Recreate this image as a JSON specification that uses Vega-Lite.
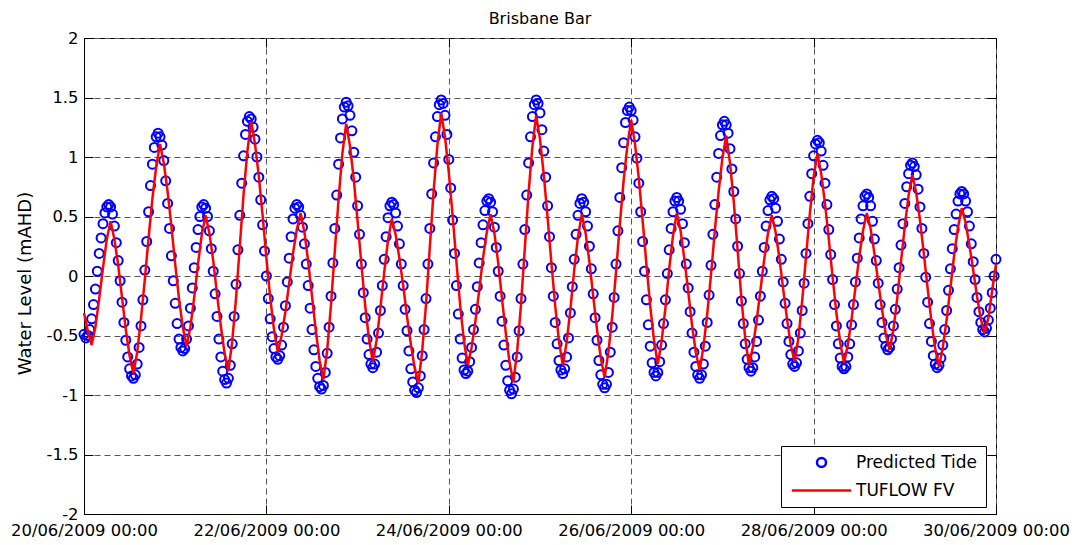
{
"$schema":"https://vega.github.io/schema/vega-lite/v6.json",
"width":912,"height":476,
"autosize":"none",
"padding":{"left":84,"top":38,"right":85,"bottom":31},
"background":"white",
"title":{"text":"Brisbane Bar","fontSize":16,"fontWeight":"normal","font":"DejaVu Sans","color":"black","offset":3},
"config":{
"view":{"stroke":"black","strokeWidth":1},
"axis":{"labelFont":"DejaVu Sans","labelFontSize":16.4,"labelColor":"black","titleFont":"DejaVu Sans","titleFontSize":18,"titleFontWeight":"normal","titleColor":"black","gridColor":"#555555","gridDash":[6,4],"gridWidth":1,"gridOpacity":1,"domainColor":"black","domainWidth":1,"tickColor":"black","tickWidth":1,"tickSize":-9}
},
"datasets":{
"obs":[
{"t":"2009-06-20T00:00","v":-0.49},{"t":"2009-06-20T00:30","v":-0.52},{"t":"2009-06-20T01:00","v":-0.50},{"t":"2009-06-20T01:30","v":-0.45},{"t":"2009-06-20T02:00","v":-0.36},{"t":"2009-06-20T02:30","v":-0.24},{"t":"2009-06-20T03:00","v":-0.11},{"t":"2009-06-20T03:30","v":0.04},{"t":"2009-06-20T04:00","v":0.19},{"t":"2009-06-20T04:30","v":0.32},{"t":"2009-06-20T05:00","v":0.44},{"t":"2009-06-20T05:30","v":0.53},{"t":"2009-06-20T06:00","v":0.58},{"t":"2009-06-20T06:30","v":0.60},{"t":"2009-06-20T07:00","v":0.58},{"t":"2009-06-20T07:30","v":0.52},{"t":"2009-06-20T08:00","v":0.42},{"t":"2009-06-20T08:30","v":0.28},{"t":"2009-06-20T09:00","v":0.13},{"t":"2009-06-20T09:30","v":-0.04},{"t":"2009-06-20T10:00","v":-0.22},{"t":"2009-06-20T10:30","v":-0.39},{"t":"2009-06-20T11:00","v":-0.54},{"t":"2009-06-20T11:30","v":-0.68},{"t":"2009-06-20T12:00","v":-0.78},{"t":"2009-06-20T12:30","v":-0.84},{"t":"2009-06-20T13:00","v":-0.86},{"t":"2009-06-20T13:30","v":-0.83},{"t":"2009-06-20T14:00","v":-0.74},{"t":"2009-06-20T14:30","v":-0.60},{"t":"2009-06-20T15:00","v":-0.42},{"t":"2009-06-20T15:30","v":-0.20},{"t":"2009-06-20T16:00","v":0.05},{"t":"2009-06-20T16:30","v":0.29},{"t":"2009-06-20T17:00","v":0.54},{"t":"2009-06-20T17:30","v":0.76},{"t":"2009-06-20T18:00","v":0.94},{"t":"2009-06-20T18:30","v":1.08},{"t":"2009-06-20T19:00","v":1.17},{"t":"2009-06-20T19:30","v":1.20},{"t":"2009-06-20T20:00","v":1.17},{"t":"2009-06-20T20:30","v":1.10},{"t":"2009-06-20T21:00","v":0.97},{"t":"2009-06-20T21:30","v":0.80},{"t":"2009-06-20T22:00","v":0.61},{"t":"2009-06-20T22:30","v":0.40},{"t":"2009-06-20T23:00","v":0.17},{"t":"2009-06-20T23:30","v":-0.04},
{"t":"2009-06-21T00:00","v":-0.23},{"t":"2009-06-21T00:30","v":-0.40},{"t":"2009-06-21T01:00","v":-0.53},{"t":"2009-06-21T01:30","v":-0.60},{"t":"2009-06-21T02:00","v":-0.63},{"t":"2009-06-21T02:30","v":-0.61},{"t":"2009-06-21T03:00","v":-0.53},{"t":"2009-06-21T03:30","v":-0.42},{"t":"2009-06-21T04:00","v":-0.27},{"t":"2009-06-21T04:30","v":-0.10},{"t":"2009-06-21T05:00","v":0.07},{"t":"2009-06-21T05:30","v":0.24},{"t":"2009-06-21T06:00","v":0.39},{"t":"2009-06-21T06:30","v":0.50},{"t":"2009-06-21T07:00","v":0.58},{"t":"2009-06-21T07:30","v":0.60},{"t":"2009-06-21T08:00","v":0.57},{"t":"2009-06-21T08:30","v":0.50},{"t":"2009-06-21T09:00","v":0.38},{"t":"2009-06-21T09:30","v":0.23},{"t":"2009-06-21T10:00","v":0.04},{"t":"2009-06-21T10:30","v":-0.15},{"t":"2009-06-21T11:00","v":-0.34},{"t":"2009-06-21T11:30","v":-0.53},{"t":"2009-06-21T12:00","v":-0.68},{"t":"2009-06-21T12:30","v":-0.80},{"t":"2009-06-21T13:00","v":-0.87},{"t":"2009-06-21T13:30","v":-0.90},{"t":"2009-06-21T14:00","v":-0.86},{"t":"2009-06-21T14:30","v":-0.75},{"t":"2009-06-21T15:00","v":-0.57},{"t":"2009-06-21T15:30","v":-0.34},{"t":"2009-06-21T16:00","v":-0.07},{"t":"2009-06-21T16:30","v":0.22},{"t":"2009-06-21T17:00","v":0.51},{"t":"2009-06-21T17:30","v":0.78},{"t":"2009-06-21T18:00","v":1.01},{"t":"2009-06-21T18:30","v":1.19},{"t":"2009-06-21T19:00","v":1.30},{"t":"2009-06-21T19:30","v":1.34},{"t":"2009-06-21T20:00","v":1.32},{"t":"2009-06-21T20:30","v":1.25},{"t":"2009-06-21T21:00","v":1.15},{"t":"2009-06-21T21:30","v":1.00},{"t":"2009-06-21T22:00","v":0.83},{"t":"2009-06-21T22:30","v":0.64},{"t":"2009-06-21T23:00","v":0.43},{"t":"2009-06-21T23:30","v":0.21},
{"t":"2009-06-22T00:00","v":0.00},{"t":"2009-06-22T00:30","v":-0.19},{"t":"2009-06-22T01:00","v":-0.36},{"t":"2009-06-22T01:30","v":-0.51},{"t":"2009-06-22T02:00","v":-0.61},{"t":"2009-06-22T02:30","v":-0.68},{"t":"2009-06-22T03:00","v":-0.70},{"t":"2009-06-22T03:30","v":-0.67},{"t":"2009-06-22T04:00","v":-0.58},{"t":"2009-06-22T04:30","v":-0.43},{"t":"2009-06-22T05:00","v":-0.25},{"t":"2009-06-22T05:30","v":-0.05},{"t":"2009-06-22T06:00","v":0.15},{"t":"2009-06-22T06:30","v":0.33},{"t":"2009-06-22T07:00","v":0.48},{"t":"2009-06-22T07:30","v":0.57},{"t":"2009-06-22T08:00","v":0.60},{"t":"2009-06-22T08:30","v":0.58},{"t":"2009-06-22T09:00","v":0.51},{"t":"2009-06-22T09:30","v":0.41},{"t":"2009-06-22T10:00","v":0.27},{"t":"2009-06-22T10:30","v":0.10},{"t":"2009-06-22T11:00","v":-0.08},{"t":"2009-06-22T11:30","v":-0.27},{"t":"2009-06-22T12:00","v":-0.45},{"t":"2009-06-22T12:30","v":-0.62},{"t":"2009-06-22T13:00","v":-0.76},{"t":"2009-06-22T13:30","v":-0.86},{"t":"2009-06-22T14:00","v":-0.93},{"t":"2009-06-22T14:30","v":-0.95},{"t":"2009-06-22T15:00","v":-0.92},{"t":"2009-06-22T15:30","v":-0.81},{"t":"2009-06-22T16:00","v":-0.65},{"t":"2009-06-22T16:30","v":-0.43},{"t":"2009-06-22T17:00","v":-0.17},{"t":"2009-06-22T17:30","v":0.11},{"t":"2009-06-22T18:00","v":0.40},{"t":"2009-06-22T18:30","v":0.68},{"t":"2009-06-22T19:00","v":0.94},{"t":"2009-06-22T19:30","v":1.16},{"t":"2009-06-22T20:00","v":1.32},{"t":"2009-06-22T20:30","v":1.42},{"t":"2009-06-22T21:00","v":1.46},{"t":"2009-06-22T21:30","v":1.43},{"t":"2009-06-22T22:00","v":1.35},{"t":"2009-06-22T22:30","v":1.22},{"t":"2009-06-22T23:00","v":1.04},{"t":"2009-06-22T23:30","v":0.83},
{"t":"2009-06-23T00:00","v":0.59},{"t":"2009-06-23T00:30","v":0.35},{"t":"2009-06-23T01:00","v":0.10},{"t":"2009-06-23T01:30","v":-0.14},{"t":"2009-06-23T02:00","v":-0.35},{"t":"2009-06-23T02:30","v":-0.53},{"t":"2009-06-23T03:00","v":-0.66},{"t":"2009-06-23T03:30","v":-0.74},{"t":"2009-06-23T04:00","v":-0.77},{"t":"2009-06-23T04:30","v":-0.74},{"t":"2009-06-23T05:00","v":-0.64},{"t":"2009-06-23T05:30","v":-0.48},{"t":"2009-06-23T06:00","v":-0.29},{"t":"2009-06-23T06:30","v":-0.08},{"t":"2009-06-23T07:00","v":0.14},{"t":"2009-06-23T07:30","v":0.33},{"t":"2009-06-23T08:00","v":0.49},{"t":"2009-06-23T08:30","v":0.59},{"t":"2009-06-23T09:00","v":0.62},{"t":"2009-06-23T09:30","v":0.60},{"t":"2009-06-23T10:00","v":0.53},{"t":"2009-06-23T10:30","v":0.42},{"t":"2009-06-23T11:00","v":0.27},{"t":"2009-06-23T11:30","v":0.10},{"t":"2009-06-23T12:00","v":-0.08},{"t":"2009-06-23T12:30","v":-0.28},{"t":"2009-06-23T13:00","v":-0.46},{"t":"2009-06-23T13:30","v":-0.63},{"t":"2009-06-23T14:00","v":-0.78},{"t":"2009-06-23T14:30","v":-0.89},{"t":"2009-06-23T15:00","v":-0.96},{"t":"2009-06-23T15:30","v":-0.98},{"t":"2009-06-23T16:00","v":-0.94},{"t":"2009-06-23T16:30","v":-0.84},{"t":"2009-06-23T17:00","v":-0.67},{"t":"2009-06-23T17:30","v":-0.45},{"t":"2009-06-23T18:00","v":-0.19},{"t":"2009-06-23T18:30","v":0.10},{"t":"2009-06-23T19:00","v":0.40},{"t":"2009-06-23T19:30","v":0.69},{"t":"2009-06-23T20:00","v":0.95},{"t":"2009-06-23T20:30","v":1.17},{"t":"2009-06-23T21:00","v":1.34},{"t":"2009-06-23T21:30","v":1.44},{"t":"2009-06-23T22:00","v":1.48},{"t":"2009-06-23T22:30","v":1.45},{"t":"2009-06-23T23:00","v":1.35},{"t":"2009-06-23T23:30","v":1.19},
{"t":"2009-06-24T00:00","v":0.98},{"t":"2009-06-24T00:30","v":0.74},{"t":"2009-06-24T01:00","v":0.47},{"t":"2009-06-24T01:30","v":0.19},{"t":"2009-06-24T02:00","v":-0.08},{"t":"2009-06-24T02:30","v":-0.32},{"t":"2009-06-24T03:00","v":-0.53},{"t":"2009-06-24T03:30","v":-0.69},{"t":"2009-06-24T04:00","v":-0.79},{"t":"2009-06-24T04:30","v":-0.82},{"t":"2009-06-24T05:00","v":-0.80},{"t":"2009-06-24T05:30","v":-0.72},{"t":"2009-06-24T06:00","v":-0.60},{"t":"2009-06-24T06:30","v":-0.45},{"t":"2009-06-24T07:00","v":-0.28},{"t":"2009-06-24T07:30","v":-0.09},{"t":"2009-06-24T08:00","v":0.11},{"t":"2009-06-24T08:30","v":0.28},{"t":"2009-06-24T09:00","v":0.43},{"t":"2009-06-24T09:30","v":0.55},{"t":"2009-06-24T10:00","v":0.63},{"t":"2009-06-24T10:30","v":0.65},{"t":"2009-06-24T11:00","v":0.62},{"t":"2009-06-24T11:30","v":0.54},{"t":"2009-06-24T12:00","v":0.41},{"t":"2009-06-24T12:30","v":0.24},{"t":"2009-06-24T13:00","v":0.04},{"t":"2009-06-24T13:30","v":-0.17},{"t":"2009-06-24T14:00","v":-0.38},{"t":"2009-06-24T14:30","v":-0.58},{"t":"2009-06-24T15:00","v":-0.75},{"t":"2009-06-24T15:30","v":-0.88},{"t":"2009-06-24T16:00","v":-0.96},{"t":"2009-06-24T16:30","v":-0.99},{"t":"2009-06-24T17:00","v":-0.95},{"t":"2009-06-24T17:30","v":-0.85},{"t":"2009-06-24T18:00","v":-0.68},{"t":"2009-06-24T18:30","v":-0.46},{"t":"2009-06-24T19:00","v":-0.19},{"t":"2009-06-24T19:30","v":0.10},{"t":"2009-06-24T20:00","v":0.39},{"t":"2009-06-24T20:30","v":0.68},{"t":"2009-06-24T21:00","v":0.95},{"t":"2009-06-24T21:30","v":1.17},{"t":"2009-06-24T22:00","v":1.34},{"t":"2009-06-24T22:30","v":1.44},{"t":"2009-06-24T23:00","v":1.48},{"t":"2009-06-24T23:30","v":1.45},
{"t":"2009-06-25T00:00","v":1.37},{"t":"2009-06-25T00:30","v":1.23},{"t":"2009-06-25T01:00","v":1.05},{"t":"2009-06-25T01:30","v":0.83},{"t":"2009-06-25T02:00","v":0.59},{"t":"2009-06-25T02:30","v":0.33},{"t":"2009-06-25T03:00","v":0.07},{"t":"2009-06-25T03:30","v":-0.17},{"t":"2009-06-25T04:00","v":-0.39},{"t":"2009-06-25T04:30","v":-0.57},{"t":"2009-06-25T05:00","v":-0.71},{"t":"2009-06-25T05:30","v":-0.79},{"t":"2009-06-25T06:00","v":-0.82},{"t":"2009-06-25T06:30","v":-0.78},{"t":"2009-06-25T07:00","v":-0.68},{"t":"2009-06-25T07:30","v":-0.52},{"t":"2009-06-25T08:00","v":-0.31},{"t":"2009-06-25T08:30","v":-0.09},{"t":"2009-06-25T09:00","v":0.14},{"t":"2009-06-25T09:30","v":0.35},{"t":"2009-06-25T10:00","v":0.51},{"t":"2009-06-25T10:30","v":0.61},{"t":"2009-06-25T11:00","v":0.65},{"t":"2009-06-25T11:30","v":0.62},{"t":"2009-06-25T12:00","v":0.54},{"t":"2009-06-25T12:30","v":0.42},{"t":"2009-06-25T13:00","v":0.25},{"t":"2009-06-25T13:30","v":0.06},{"t":"2009-06-25T14:00","v":-0.15},{"t":"2009-06-25T14:30","v":-0.35},{"t":"2009-06-25T15:00","v":-0.54},{"t":"2009-06-25T15:30","v":-0.71},{"t":"2009-06-25T16:00","v":-0.83},{"t":"2009-06-25T16:30","v":-0.91},{"t":"2009-06-25T17:00","v":-0.94},{"t":"2009-06-25T17:30","v":-0.91},{"t":"2009-06-25T18:00","v":-0.81},{"t":"2009-06-25T18:30","v":-0.64},{"t":"2009-06-25T19:00","v":-0.43},{"t":"2009-06-25T19:30","v":-0.18},{"t":"2009-06-25T20:00","v":0.10},{"t":"2009-06-25T20:30","v":0.38},{"t":"2009-06-25T21:00","v":0.66},{"t":"2009-06-25T21:30","v":0.91},{"t":"2009-06-25T22:00","v":1.12},{"t":"2009-06-25T22:30","v":1.29},{"t":"2009-06-25T23:00","v":1.39},{"t":"2009-06-25T23:30","v":1.42},
{"t":"2009-06-26T00:00","v":1.39},{"t":"2009-06-26T00:30","v":1.31},{"t":"2009-06-26T01:00","v":1.17},{"t":"2009-06-26T01:30","v":0.99},{"t":"2009-06-26T02:00","v":0.78},{"t":"2009-06-26T02:30","v":0.54},{"t":"2009-06-26T03:00","v":0.29},{"t":"2009-06-26T03:30","v":0.04},{"t":"2009-06-26T04:00","v":-0.20},{"t":"2009-06-26T04:30","v":-0.41},{"t":"2009-06-26T05:00","v":-0.59},{"t":"2009-06-26T05:30","v":-0.73},{"t":"2009-06-26T06:00","v":-0.81},{"t":"2009-06-26T06:30","v":-0.84},{"t":"2009-06-26T07:00","v":-0.81},{"t":"2009-06-26T07:30","v":-0.72},{"t":"2009-06-26T08:00","v":-0.58},{"t":"2009-06-26T08:30","v":-0.40},{"t":"2009-06-26T09:00","v":-0.20},{"t":"2009-06-26T09:30","v":0.02},{"t":"2009-06-26T10:00","v":0.22},{"t":"2009-06-26T10:30","v":0.40},{"t":"2009-06-26T11:00","v":0.54},{"t":"2009-06-26T11:30","v":0.63},{"t":"2009-06-26T12:00","v":0.66},{"t":"2009-06-26T12:30","v":0.63},{"t":"2009-06-26T13:00","v":0.56},{"t":"2009-06-26T13:30","v":0.44},{"t":"2009-06-26T14:00","v":0.28},{"t":"2009-06-26T14:30","v":0.10},{"t":"2009-06-26T15:00","v":-0.10},{"t":"2009-06-26T15:30","v":-0.30},{"t":"2009-06-26T16:00","v":-0.48},{"t":"2009-06-26T16:30","v":-0.64},{"t":"2009-06-26T17:00","v":-0.76},{"t":"2009-06-26T17:30","v":-0.83},{"t":"2009-06-26T18:00","v":-0.86},{"t":"2009-06-26T18:30","v":-0.83},{"t":"2009-06-26T19:00","v":-0.74},{"t":"2009-06-26T19:30","v":-0.59},{"t":"2009-06-26T20:00","v":-0.39},{"t":"2009-06-26T20:30","v":-0.16},{"t":"2009-06-26T21:00","v":0.09},{"t":"2009-06-26T21:30","v":0.35},{"t":"2009-06-26T22:00","v":0.60},{"t":"2009-06-26T22:30","v":0.83},{"t":"2009-06-26T23:00","v":1.03},{"t":"2009-06-26T23:30","v":1.18},
{"t":"2009-06-27T00:00","v":1.27},{"t":"2009-06-27T00:30","v":1.30},{"t":"2009-06-27T01:00","v":1.27},{"t":"2009-06-27T01:30","v":1.20},{"t":"2009-06-27T02:00","v":1.07},{"t":"2009-06-27T02:30","v":0.90},{"t":"2009-06-27T03:00","v":0.71},{"t":"2009-06-27T03:30","v":0.48},{"t":"2009-06-27T04:00","v":0.25},{"t":"2009-06-27T04:30","v":0.02},{"t":"2009-06-27T05:00","v":-0.21},{"t":"2009-06-27T05:30","v":-0.40},{"t":"2009-06-27T06:00","v":-0.57},{"t":"2009-06-27T06:30","v":-0.70},{"t":"2009-06-27T07:00","v":-0.77},{"t":"2009-06-27T07:30","v":-0.80},{"t":"2009-06-27T08:00","v":-0.77},{"t":"2009-06-27T08:30","v":-0.68},{"t":"2009-06-27T09:00","v":-0.55},{"t":"2009-06-27T09:30","v":-0.37},{"t":"2009-06-27T10:00","v":-0.17},{"t":"2009-06-27T10:30","v":0.04},{"t":"2009-06-27T11:00","v":0.24},{"t":"2009-06-27T11:30","v":0.42},{"t":"2009-06-27T12:00","v":0.55},{"t":"2009-06-27T12:30","v":0.64},{"t":"2009-06-27T13:00","v":0.67},{"t":"2009-06-27T13:30","v":0.65},{"t":"2009-06-27T14:00","v":0.57},{"t":"2009-06-27T14:30","v":0.46},{"t":"2009-06-27T15:00","v":0.31},{"t":"2009-06-27T15:30","v":0.14},{"t":"2009-06-27T16:00","v":-0.05},{"t":"2009-06-27T16:30","v":-0.23},{"t":"2009-06-27T17:00","v":-0.40},{"t":"2009-06-27T17:30","v":-0.55},{"t":"2009-06-27T18:00","v":-0.66},{"t":"2009-06-27T18:30","v":-0.74},{"t":"2009-06-27T19:00","v":-0.76},{"t":"2009-06-27T19:30","v":-0.73},{"t":"2009-06-27T20:00","v":-0.63},{"t":"2009-06-27T20:30","v":-0.48},{"t":"2009-06-27T21:00","v":-0.29},{"t":"2009-06-27T21:30","v":-0.06},{"t":"2009-06-27T22:00","v":0.19},{"t":"2009-06-27T22:30","v":0.44},{"t":"2009-06-27T23:00","v":0.67},{"t":"2009-06-27T23:30","v":0.86},
{"t":"2009-06-28T00:00","v":1.01},{"t":"2009-06-28T00:30","v":1.11},{"t":"2009-06-28T01:00","v":1.14},{"t":"2009-06-28T01:30","v":1.12},{"t":"2009-06-28T02:00","v":1.05},{"t":"2009-06-28T02:30","v":0.93},{"t":"2009-06-28T03:00","v":0.78},{"t":"2009-06-28T03:30","v":0.60},{"t":"2009-06-28T04:00","v":0.39},{"t":"2009-06-28T04:30","v":0.18},{"t":"2009-06-28T05:00","v":-0.03},{"t":"2009-06-28T05:30","v":-0.24},{"t":"2009-06-28T06:00","v":-0.42},{"t":"2009-06-28T06:30","v":-0.57},{"t":"2009-06-28T07:00","v":-0.69},{"t":"2009-06-28T07:30","v":-0.76},{"t":"2009-06-28T08:00","v":-0.78},{"t":"2009-06-28T08:30","v":-0.76},{"t":"2009-06-28T09:00","v":-0.68},{"t":"2009-06-28T09:30","v":-0.57},{"t":"2009-06-28T10:00","v":-0.41},{"t":"2009-06-28T10:30","v":-0.24},{"t":"2009-06-28T11:00","v":-0.05},{"t":"2009-06-28T11:30","v":0.15},{"t":"2009-06-28T12:00","v":0.32},{"t":"2009-06-28T12:30","v":0.48},{"t":"2009-06-28T13:00","v":0.59},{"t":"2009-06-28T13:30","v":0.67},{"t":"2009-06-28T14:00","v":0.69},{"t":"2009-06-28T14:30","v":0.66},{"t":"2009-06-28T15:00","v":0.59},{"t":"2009-06-28T15:30","v":0.46},{"t":"2009-06-28T16:00","v":0.31},{"t":"2009-06-28T16:30","v":0.13},{"t":"2009-06-28T17:00","v":-0.06},{"t":"2009-06-28T17:30","v":-0.24},{"t":"2009-06-28T18:00","v":-0.39},{"t":"2009-06-28T18:30","v":-0.52},{"t":"2009-06-28T19:00","v":-0.59},{"t":"2009-06-28T19:30","v":-0.62},{"t":"2009-06-28T20:00","v":-0.60},{"t":"2009-06-28T20:30","v":-0.53},{"t":"2009-06-28T21:00","v":-0.42},{"t":"2009-06-28T21:30","v":-0.28},{"t":"2009-06-28T22:00","v":-0.11},{"t":"2009-06-28T22:30","v":0.07},{"t":"2009-06-28T23:00","v":0.26},{"t":"2009-06-28T23:30","v":0.44},
{"t":"2009-06-29T00:00","v":0.61},{"t":"2009-06-29T00:30","v":0.75},{"t":"2009-06-29T01:00","v":0.86},{"t":"2009-06-29T01:30","v":0.93},{"t":"2009-06-29T02:00","v":0.95},{"t":"2009-06-29T02:30","v":0.92},{"t":"2009-06-29T03:00","v":0.85},{"t":"2009-06-29T03:30","v":0.73},{"t":"2009-06-29T04:00","v":0.58},{"t":"2009-06-29T04:30","v":0.40},{"t":"2009-06-29T05:00","v":0.19},{"t":"2009-06-29T05:30","v":-0.01},{"t":"2009-06-29T06:00","v":-0.22},{"t":"2009-06-29T06:30","v":-0.40},{"t":"2009-06-29T07:00","v":-0.55},{"t":"2009-06-29T07:30","v":-0.67},{"t":"2009-06-29T08:00","v":-0.74},{"t":"2009-06-29T08:30","v":-0.77},{"t":"2009-06-29T09:00","v":-0.75},{"t":"2009-06-29T09:30","v":-0.69},{"t":"2009-06-29T10:00","v":-0.58},{"t":"2009-06-29T10:30","v":-0.45},{"t":"2009-06-29T11:00","v":-0.29},{"t":"2009-06-29T11:30","v":-0.12},{"t":"2009-06-29T12:00","v":0.06},{"t":"2009-06-29T12:30","v":0.23},{"t":"2009-06-29T13:00","v":0.39},{"t":"2009-06-29T13:30","v":0.52},{"t":"2009-06-29T14:00","v":0.63},{"t":"2009-06-29T14:30","v":0.69},{"t":"2009-06-29T15:00","v":0.71},{"t":"2009-06-29T15:30","v":0.69},{"t":"2009-06-29T16:00","v":0.63},{"t":"2009-06-29T16:30","v":0.54},{"t":"2009-06-29T17:00","v":0.42},{"t":"2009-06-29T17:30","v":0.27},{"t":"2009-06-29T18:00","v":0.12},{"t":"2009-06-29T18:30","v":-0.03},{"t":"2009-06-29T19:00","v":-0.18},{"t":"2009-06-29T19:30","v":-0.30},{"t":"2009-06-29T20:00","v":-0.39},{"t":"2009-06-29T20:30","v":-0.45},{"t":"2009-06-29T21:00","v":-0.47},{"t":"2009-06-29T21:30","v":-0.44},{"t":"2009-06-29T22:00","v":-0.37},{"t":"2009-06-29T22:30","v":-0.27},{"t":"2009-06-29T23:00","v":-0.14},{"t":"2009-06-29T23:30","v":0.00},
{"t":"2009-06-30T00:00","v":0.14}
],
"mod":[
{"t":"2009-06-20T00:00","v":-0.31},{"t":"2009-06-20T01:00","v":-0.46},{"t":"2009-06-20T02:00","v":-0.58},{"t":"2009-06-20T03:00","v":-0.43},{"t":"2009-06-20T04:00","v":-0.19},{"t":"2009-06-20T05:00","v":0.07},{"t":"2009-06-20T06:00","v":0.31},{"t":"2009-06-20T07:00","v":0.46},{"t":"2009-06-20T08:00","v":0.31},{"t":"2009-06-20T09:00","v":0.09},{"t":"2009-06-20T10:00","v":-0.18},{"t":"2009-06-20T11:00","v":-0.45},{"t":"2009-06-20T12:00","v":-0.67},{"t":"2009-06-20T13:00","v":-0.82},{"t":"2009-06-20T14:00","v":-0.64},{"t":"2009-06-20T15:00","v":-0.36},{"t":"2009-06-20T16:00","v":-0.03},{"t":"2009-06-20T17:00","v":0.32},{"t":"2009-06-20T18:00","v":0.65},{"t":"2009-06-20T19:00","v":0.92},{"t":"2009-06-20T20:00","v":1.11},{"t":"2009-06-20T21:00","v":0.95},{"t":"2009-06-20T22:00","v":0.71},{"t":"2009-06-20T23:00","v":0.42},
{"t":"2009-06-21T00:00","v":0.10},{"t":"2009-06-21T01:00","v":-0.19},{"t":"2009-06-21T02:00","v":-0.43},{"t":"2009-06-21T03:00","v":-0.59},{"t":"2009-06-21T04:00","v":-0.43},{"t":"2009-06-21T05:00","v":-0.18},{"t":"2009-06-21T06:00","v":0.10},{"t":"2009-06-21T07:00","v":0.35},{"t":"2009-06-21T08:00","v":0.51},{"t":"2009-06-21T09:00","v":0.36},{"t":"2009-06-21T10:00","v":0.13},{"t":"2009-06-21T11:00","v":-0.15},{"t":"2009-06-21T12:00","v":-0.42},{"t":"2009-06-21T13:00","v":-0.65},{"t":"2009-06-21T14:00","v":-0.80},{"t":"2009-06-21T15:00","v":-0.55},{"t":"2009-06-21T16:00","v":-0.19},{"t":"2009-06-21T17:00","v":0.25},{"t":"2009-06-21T18:00","v":0.69},{"t":"2009-06-21T19:00","v":1.05},{"t":"2009-06-21T20:00","v":1.30},{"t":"2009-06-21T21:00","v":1.11},{"t":"2009-06-21T22:00","v":0.84},{"t":"2009-06-21T23:00","v":0.51},
{"t":"2009-06-22T00:00","v":0.15},{"t":"2009-06-22T01:00","v":-0.18},{"t":"2009-06-22T02:00","v":-0.45},{"t":"2009-06-22T03:00","v":-0.64},{"t":"2009-06-22T04:00","v":-0.50},{"t":"2009-06-22T05:00","v":-0.30},{"t":"2009-06-22T06:00","v":-0.06},{"t":"2009-06-22T07:00","v":0.19},{"t":"2009-06-22T08:00","v":0.39},{"t":"2009-06-22T09:00","v":0.53},{"t":"2009-06-22T10:00","v":0.37},{"t":"2009-06-22T11:00","v":0.12},{"t":"2009-06-22T12:00","v":-0.17},{"t":"2009-06-22T13:00","v":-0.46},{"t":"2009-06-22T14:00","v":-0.71},{"t":"2009-06-22T15:00","v":-0.87},{"t":"2009-06-22T16:00","v":-0.62},{"t":"2009-06-22T17:00","v":-0.24},{"t":"2009-06-22T18:00","v":0.21},{"t":"2009-06-22T19:00","v":0.65},{"t":"2009-06-22T20:00","v":1.03},{"t":"2009-06-22T21:00","v":1.28},{"t":"2009-06-22T22:00","v":1.09},{"t":"2009-06-22T23:00","v":0.81},
{"t":"2009-06-23T00:00","v":0.46},{"t":"2009-06-23T01:00","v":0.10},{"t":"2009-06-23T02:00","v":-0.25},{"t":"2009-06-23T03:00","v":-0.53},{"t":"2009-06-23T04:00","v":-0.72},{"t":"2009-06-23T05:00","v":-0.54},{"t":"2009-06-23T06:00","v":-0.27},{"t":"2009-06-23T07:00","v":0.03},{"t":"2009-06-23T08:00","v":0.30},{"t":"2009-06-23T09:00","v":0.48},{"t":"2009-06-23T10:00","v":0.35},{"t":"2009-06-23T11:00","v":0.15},{"t":"2009-06-23T12:00","v":-0.08},{"t":"2009-06-23T13:00","v":-0.34},{"t":"2009-06-23T14:00","v":-0.57},{"t":"2009-06-23T15:00","v":-0.77},{"t":"2009-06-23T16:00","v":-0.90},{"t":"2009-06-23T17:00","v":-0.63},{"t":"2009-06-23T18:00","v":-0.24},{"t":"2009-06-23T19:00","v":0.24},{"t":"2009-06-23T20:00","v":0.71},{"t":"2009-06-23T21:00","v":1.10},{"t":"2009-06-23T22:00","v":1.37},{"t":"2009-06-23T23:00","v":1.17},
{"t":"2009-06-24T00:00","v":0.87},{"t":"2009-06-24T01:00","v":0.51},{"t":"2009-06-24T02:00","v":0.12},{"t":"2009-06-24T03:00","v":-0.25},{"t":"2009-06-24T04:00","v":-0.55},{"t":"2009-06-24T05:00","v":-0.75},{"t":"2009-06-24T06:00","v":-0.60},{"t":"2009-06-24T07:00","v":-0.38},{"t":"2009-06-24T08:00","v":-0.12},{"t":"2009-06-24T09:00","v":0.15},{"t":"2009-06-24T10:00","v":0.37},{"t":"2009-06-24T11:00","v":0.52},{"t":"2009-06-24T12:00","v":0.36},{"t":"2009-06-24T13:00","v":0.11},{"t":"2009-06-24T14:00","v":-0.19},{"t":"2009-06-24T15:00","v":-0.48},{"t":"2009-06-24T16:00","v":-0.73},{"t":"2009-06-24T17:00","v":-0.89},{"t":"2009-06-24T18:00","v":-0.63},{"t":"2009-06-24T19:00","v":-0.24},{"t":"2009-06-24T20:00","v":0.23},{"t":"2009-06-24T21:00","v":0.70},{"t":"2009-06-24T22:00","v":1.09},{"t":"2009-06-24T23:00","v":1.35},
{"t":"2009-06-25T00:00","v":1.15},{"t":"2009-06-25T01:00","v":0.85},{"t":"2009-06-25T02:00","v":0.49},{"t":"2009-06-25T03:00","v":0.11},{"t":"2009-06-25T04:00","v":-0.25},{"t":"2009-06-25T05:00","v":-0.55},{"t":"2009-06-25T06:00","v":-0.75},{"t":"2009-06-25T07:00","v":-0.56},{"t":"2009-06-25T08:00","v":-0.28},{"t":"2009-06-25T09:00","v":0.05},{"t":"2009-06-25T10:00","v":0.33},{"t":"2009-06-25T11:00","v":0.52},{"t":"2009-06-25T12:00","v":0.36},{"t":"2009-06-25T13:00","v":0.12},{"t":"2009-06-25T14:00","v":-0.17},{"t":"2009-06-25T15:00","v":-0.45},{"t":"2009-06-25T16:00","v":-0.69},{"t":"2009-06-25T17:00","v":-0.85},{"t":"2009-06-25T18:00","v":-0.64},{"t":"2009-06-25T19:00","v":-0.34},{"t":"2009-06-25T20:00","v":0.03},{"t":"2009-06-25T21:00","v":0.43},{"t":"2009-06-25T22:00","v":0.80},{"t":"2009-06-25T23:00","v":1.10},
{"t":"2009-06-26T00:00","v":1.31},{"t":"2009-06-26T01:00","v":1.11},{"t":"2009-06-26T02:00","v":0.82},{"t":"2009-06-26T03:00","v":0.47},{"t":"2009-06-26T04:00","v":0.10},{"t":"2009-06-26T05:00","v":-0.25},{"t":"2009-06-26T06:00","v":-0.54},{"t":"2009-06-26T07:00","v":-0.74},{"t":"2009-06-26T08:00","v":-0.55},{"t":"2009-06-26T09:00","v":-0.27},{"t":"2009-06-26T10:00","v":0.06},{"t":"2009-06-26T11:00","v":0.34},{"t":"2009-06-26T12:00","v":0.53},{"t":"2009-06-26T13:00","v":0.38},{"t":"2009-06-26T14:00","v":0.14},{"t":"2009-06-26T15:00","v":-0.13},{"t":"2009-06-26T16:00","v":-0.41},{"t":"2009-06-26T17:00","v":-0.64},{"t":"2009-06-26T18:00","v":-0.79},{"t":"2009-06-26T19:00","v":-0.60},{"t":"2009-06-26T20:00","v":-0.32},{"t":"2009-06-26T21:00","v":0.01},{"t":"2009-06-26T22:00","v":0.38},{"t":"2009-06-26T23:00","v":0.71},
{"t":"2009-06-27T00:00","v":0.99},{"t":"2009-06-27T01:00","v":1.18},{"t":"2009-06-27T02:00","v":0.95},{"t":"2009-06-27T03:00","v":0.62},{"t":"2009-06-27T04:00","v":0.22},{"t":"2009-06-27T05:00","v":-0.19},{"t":"2009-06-27T06:00","v":-0.52},{"t":"2009-06-27T07:00","v":-0.75},{"t":"2009-06-27T08:00","v":-0.60},{"t":"2009-06-27T09:00","v":-0.38},{"t":"2009-06-27T10:00","v":-0.12},{"t":"2009-06-27T11:00","v":0.14},{"t":"2009-06-27T12:00","v":0.36},{"t":"2009-06-27T13:00","v":0.51},{"t":"2009-06-27T14:00","v":0.37},{"t":"2009-06-27T15:00","v":0.15},{"t":"2009-06-27T16:00","v":-0.11},{"t":"2009-06-27T17:00","v":-0.36},{"t":"2009-06-27T18:00","v":-0.58},{"t":"2009-06-27T19:00","v":-0.72},{"t":"2009-06-27T20:00","v":-0.52},{"t":"2009-06-27T21:00","v":-0.21},{"t":"2009-06-27T22:00","v":0.16},{"t":"2009-06-27T23:00","v":0.52},
{"t":"2009-06-28T00:00","v":0.83},{"t":"2009-06-28T01:00","v":1.03},{"t":"2009-06-28T02:00","v":0.86},{"t":"2009-06-28T03:00","v":0.61},{"t":"2009-06-28T04:00","v":0.31},{"t":"2009-06-28T05:00","v":-0.01},{"t":"2009-06-28T06:00","v":-0.31},{"t":"2009-06-28T07:00","v":-0.56},{"t":"2009-06-28T08:00","v":-0.73},{"t":"2009-06-28T09:00","v":-0.58},{"t":"2009-06-28T10:00","v":-0.36},{"t":"2009-06-28T11:00","v":-0.10},{"t":"2009-06-28T12:00","v":0.16},{"t":"2009-06-28T13:00","v":0.38},{"t":"2009-06-28T14:00","v":0.53},{"t":"2009-06-28T15:00","v":0.40},{"t":"2009-06-28T16:00","v":0.19},{"t":"2009-06-28T17:00","v":-0.05},{"t":"2009-06-28T18:00","v":-0.28},{"t":"2009-06-28T19:00","v":-0.49},{"t":"2009-06-28T20:00","v":-0.62},{"t":"2009-06-28T21:00","v":-0.45},{"t":"2009-06-28T22:00","v":-0.19},{"t":"2009-06-28T23:00","v":0.12},
{"t":"2009-06-29T00:00","v":0.42},{"t":"2009-06-29T01:00","v":0.68},{"t":"2009-06-29T02:00","v":0.85},{"t":"2009-06-29T03:00","v":0.70},{"t":"2009-06-29T04:00","v":0.47},{"t":"2009-06-29T05:00","v":0.19},{"t":"2009-06-29T06:00","v":-0.10},{"t":"2009-06-29T07:00","v":-0.38},{"t":"2009-06-29T08:00","v":-0.61},{"t":"2009-06-29T09:00","v":-0.76},{"t":"2009-06-29T10:00","v":-0.60},{"t":"2009-06-29T11:00","v":-0.37},{"t":"2009-06-29T12:00","v":-0.10},{"t":"2009-06-29T13:00","v":0.18},{"t":"2009-06-29T14:00","v":0.41},{"t":"2009-06-29T15:00","v":0.57},{"t":"2009-06-29T16:00","v":0.45},{"t":"2009-06-29T17:00","v":0.26},{"t":"2009-06-29T18:00","v":0.05},{"t":"2009-06-29T19:00","v":-0.17},{"t":"2009-06-29T20:00","v":-0.36},{"t":"2009-06-29T21:00","v":-0.48},{"t":"2009-06-29T22:00","v":-0.35},{"t":"2009-06-29T23:00","v":-0.12},
{"t":"2009-06-30T00:00","v":0.10}
]
},
"resolve":{"axis":{"x":"independent","y":"independent"}},
"layer":[
{"data":{"name":"obs"},
"mark":{"type":"point","filled":false,"size":81,"strokeWidth":2,"opacity":1},
"encoding":{
"x":{"field":"t","type":"temporal","scale":{"domain":[{"year":2009,"month":6,"date":20},{"year":2009,"month":6,"date":30}]},
 "axis":{"orient":"bottom","title":null,"values":[{"year":2009,"month":6,"date":20},{"year":2009,"month":6,"date":22},{"year":2009,"month":6,"date":24},{"year":2009,"month":6,"date":26},{"year":2009,"month":6,"date":28},{"year":2009,"month":6,"date":30}],"format":"%d/%m/%Y %H:%M","labelFlush":false,"labelOverlap":false,"labelPadding":17,"grid":true}},
"y":{"field":"v","type":"quantitative","scale":{"domain":[-2,2],"nice":false,"zero":false},
 "axis":{"orient":"left","title":"Water Level (mAHD)","values":[-2,-1.5,-1,-0.5,0,0.5,1,1.5,2],"labelExpr":"datum.value + ''","labelPadding":15,"grid":true,"titleX":-54,"titleY":245,"titleAngle":-90,"titleAlign":"center","titleBaseline":"alphabetic"}},
"color":{"datum":"Predicted Tide","type":"nominal","scale":{"domain":["Predicted Tide","TUFLOW FV"],"range":["#0000FF","#FF0000"]},
 "legend":{"title":null,"orient":"none","legendX":697,"legendY":408,"padding":8,"strokeColor":"black","fillColor":"white","labelFont":"DejaVu Sans","labelFontSize":17,"labelColor":"black","symbolSize":81,"symbolStrokeWidth":2.5,"rowPadding":9,"symbolOffset":24,"labelOffset":26,"cornerRadius":0}},
"shape":{"datum":"Predicted Tide","type":"nominal","scale":{"domain":["Predicted Tide","TUFLOW FV"],"range":["circle","M-6.6,0L6.6,0"]},
 "legend":{"title":null,"orient":"none","legendX":697,"legendY":408,"padding":8,"strokeColor":"black","fillColor":"white","labelFont":"DejaVu Sans","labelFontSize":17,"labelColor":"black","symbolSize":81,"symbolStrokeWidth":2.5,"rowPadding":9,"symbolOffset":24,"labelOffset":26,"cornerRadius":0}}
}},
{"data":{"name":"mod"},
"mark":{"type":"line","strokeWidth":2.5},
"encoding":{
"x":{"field":"t","type":"temporal",
 "axis":{"orient":"top","title":null,"labels":false,"grid":false,"domain":false,"values":[{"year":2009,"month":6,"date":20},{"year":2009,"month":6,"date":22},{"year":2009,"month":6,"date":24},{"year":2009,"month":6,"date":26},{"year":2009,"month":6,"date":28},{"year":2009,"month":6,"date":30}]}},
"y":{"field":"v","type":"quantitative",
 "axis":{"orient":"right","title":null,"labels":false,"grid":false,"domain":false,"values":[-2,-1.5,-1,-0.5,0,0.5,1,1.5,2]}},
"color":{"datum":"TUFLOW FV","type":"nominal"}
}}
]
}
